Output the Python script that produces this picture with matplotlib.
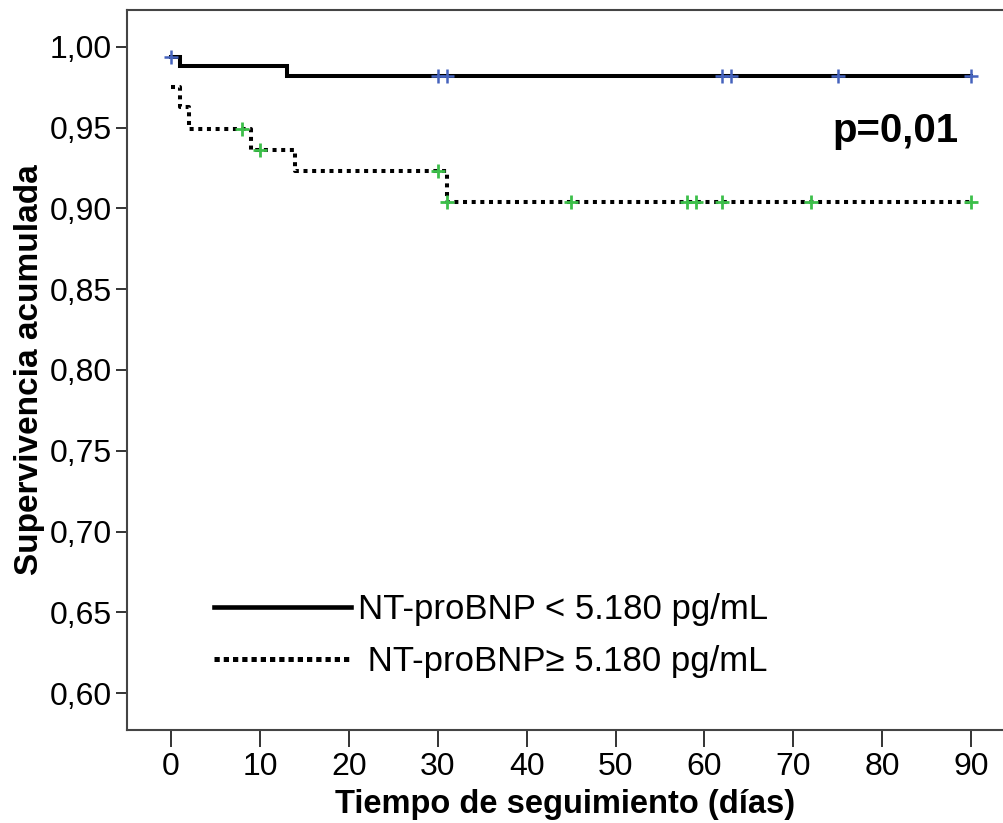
import matplotlib
matplotlib.use("Agg")
import matplotlib.pyplot as plt
import numpy as np
from matplotlib.lines import Line2D

# ---- data ----
low_times = [0, 1, 13, 90]
low_surv = [0.994, 0.988, 0.982, 0.982]
low_censor_times = [0, 30, 31, 62, 63, 75, 90]

high_times = [0, 1, 2, 9, 14, 31, 90]
high_surv = [0.975, 0.963, 0.949, 0.936, 0.923, 0.904, 0.904]
high_censor_times = [8, 10, 30, 31, 45, 58, 59, 62, 72, 90]

x_ticks = [0, 10, 20, 30, 40, 50, 60, 70, 80, 90]
y_ticks = [0.60, 0.65, 0.70, 0.75, 0.80, 0.85, 0.90, 0.95, 1.00]

label_low = "NT-proBNP < 5.180 pg/mL"
label_high = " NT-proBNP\u2265 5.180 pg/mL"
p_text = "p=0,01"


def step_value(times, surv, t):
    idx = np.searchsorted(times, t, side="right") - 1
    return surv[max(idx, 0)]


plt.rcParams["font.family"] = ["Liberation Sans", "DejaVu Sans"]

W, H = 1004, 823
fig = plt.figure(figsize=(W / 100, H / 100), dpi=100)
ax = fig.add_axes([127 / W, (H - 730) / H, (W - 127) / W, 720 / H])

ax.set_xlim(-4.95, 93.7)
ax.set_ylim(0.5771, 1.0229)

DOT = (0, (1.0, 1.15))

# curves
ax.plot(low_times, low_surv, drawstyle="steps-post", color="black", lw=2.9,
        solid_joinstyle="miter", zorder=3)
ax.plot(high_times, high_surv, drawstyle="steps-post", color="black", lw=2.9,
        linestyle=DOT, dash_capstyle="butt", zorder=3)

# censor marks
low_cy = [step_value(low_times, low_surv, t) for t in low_censor_times]
high_cy = [step_value(high_times, high_surv, t) for t in high_censor_times]
ax.plot(low_censor_times, low_cy, linestyle="none", marker="+", ms=10, mew=1.8,
        color="#4563bd", zorder=4)
ax.plot(high_censor_times, high_cy, linestyle="none", marker="+", ms=10, mew=2.0,
        color="#3cbf4a", zorder=4)

# p-value
ax.text(74.4, 0.948, p_text, fontsize=29, fontweight="bold",
        ha="left", va="center")

# ticks / spines
ax.set_xticks(x_ticks)
ax.set_xticklabels([str(v) for v in x_ticks])
ax.set_yticks(y_ticks)
ax.set_yticklabels([f"{v:.2f}".replace(".", ",") for v in y_ticks])
ax.tick_params(axis="x", direction="out", length=12, width=1.4, pad=4,
               labelsize=23, colors="#333333", labelcolor="black")
ax.tick_params(axis="y", direction="out", length=8, width=1.4, pad=3,
               labelsize=23, colors="#333333", labelcolor="black")
for side in ["left", "top", "bottom"]:
    ax.spines[side].set_color("#444444")
    ax.spines[side].set_linewidth(1.5)
ax.spines["right"].set_visible(False)

ax.set_xlabel("Tiempo de seguimiento (días)", fontsize=23.5, fontweight="bold",
              labelpad=5)
ax.set_ylabel("Supervivencia acumulada", fontsize=24, fontweight="bold",
              labelpad=3)

# legend
handles = [
    Line2D([], [], color="black", lw=3.3),
    Line2D([], [], color="black", lw=3.6, linestyle=(0, (1.05, 0.8)),
           dash_capstyle="butt"),
]
leg = ax.legend(handles, [label_low, label_high], loc="lower left",
                bbox_to_anchor=(0.083, 0.053), frameon=False, fontsize=25,
                handlelength=3.95, handletextpad=0.2, labelspacing=0.54,
                borderaxespad=0)

fig.savefig("out.png", dpi=100)
